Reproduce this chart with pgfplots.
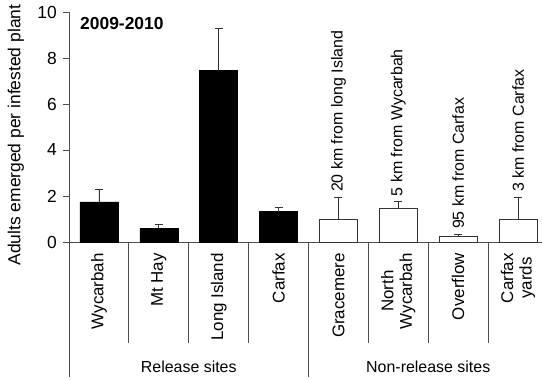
\documentclass[border=0pt]{standalone}
\usepackage{fontspec}
\setmainfont{Liberation Sans}
\usepackage{pgfplots}
\pgfplotsset{compat=1.18}

\newcommand{\lbl}{\fontsize{16}{17.5}\selectfont}
\newcommand{\sitelbl}{\fontsize{17}{18.5}\selectfont}
\colorlet{axisgray}{black!70}

\begin{document}
\begin{tikzpicture}
\useasboundingbox (-69bp,-138bp) rectangle (473bp,242bp);
\begin{axis}[
  at={(0,0)}, anchor=south west,
  scale only axis, width=479bp, height=230bp,
  xmin=-0.5, xmax=7.5, ymin=0, ymax=10,
  axis x line*=bottom, axis y line*=left,
  axis line style={axisgray, line width=0.8bp},
  xtick=\empty,
  ytick={0,2,4,6,8,10},
  tick align=outside, major tick length=6bp,
  ytick style={axisgray, line width=0.8bp},
  /pgf/number format/assume math mode=true,
  yticklabel style={font=\fontsize{17.5}{19}\selectfont, inner sep=0pt, xshift=-6bp},
  ylabel={Adults emerged per infested plant},
  ylabel style={at={(axis description cs:-0.1107,0.465)}, anchor=center,
                font=\fontsize{17.5}{19}\selectfont},
  clip=false,
  ybar, bar width=38bp, bar shift=0pt,
  error bars/y dir=plus, error bars/y explicit,
  error bars/error bar style={black!80, line width=0.8bp},
  error bars/error mark options={black!80, line width=0.8bp, mark size=4bp, rotate=90},
]
% release sites
\addplot[fill=black, draw=black] coordinates {
  (0,1.75) +- (0,0.55)
  (1,0.60) +- (0,0.18)
  (2,7.45) +- (0,1.85)
  (3,1.32) +- (0,0.18)
};
% non-release sites
\addplot[fill=white, draw=black!80, line width=0.8bp] coordinates {
  (4,0.98) +- (0,0.97)
  (5,1.45) +- (0,0.32)
  (6,0.26) +- (0,0.08)
  (7,0.98) +- (0,0.98)
};

% distance notes above the non-release bars
\begin{scope}[every node/.style={rotate=90, anchor=west, inner sep=0pt, font=\lbl}]
  \node at ([yshift=5bp]axis cs:4,1.95) {20 km from long Island};
  \node at ([yshift=5bp]axis cs:5,1.77) {5 km from Wycarbah};
  \node at ([yshift=5bp]axis cs:6,0.34) {95 km from Carfax};
  \node at ([yshift=5bp]axis cs:7,1.96) {3 km from Carfax};
\end{scope}

% category separators
\pgfplotsinvokeforeach{0.5,1.5,2.5,4.5,5.5,6.5}{
  \draw[axisgray, line width=0.8bp] (axis cs:#1,0) -- ([yshift=-101bp]axis cs:#1,0);
}
\pgfplotsinvokeforeach{-0.5,3.5}{
  \draw[axisgray, line width=0.8bp] (axis cs:#1,0) -- ([yshift=-135bp]axis cs:#1,0);
}

% site names
\begin{scope}[every node/.style={rotate=90, anchor=east, inner sep=0pt, align=center, font=\sitelbl}]
  \node at ([yshift=-11bp]axis cs:0,0) {Wycarbah};
  \node at ([yshift=-11bp]axis cs:1,0) {Mt Hay};
  \node at ([yshift=-11bp]axis cs:2,0) {Long Island};
  \node at ([yshift=-11bp]axis cs:3,0) {Carfax};
  \node at ([yshift=-11bp]axis cs:4,0) {Gracemere};
  \node at ([yshift=-11bp]axis cs:5,0) {North\\Wycarbah};
  \node at ([yshift=-11bp]axis cs:6,0) {Overflow};
  \node at ([yshift=-11bp]axis cs:7,0) {Carfax\\yards};
\end{scope}

% group names
\node[font=\lbl] at ([yshift=-125bp]axis cs:1.5,0) {Release sites};
\node[font=\lbl] at ([yshift=-125bp]axis cs:5.5,0) {Non-release sites};

% season
\node[anchor=base west, inner sep=0pt, xshift=11bp, font=\fontsize{17.5}{19}\selectfont\bfseries]
  at (axis cs:-0.5,9.26) {2009-2010};
\end{axis}
\end{tikzpicture}
\end{document}
